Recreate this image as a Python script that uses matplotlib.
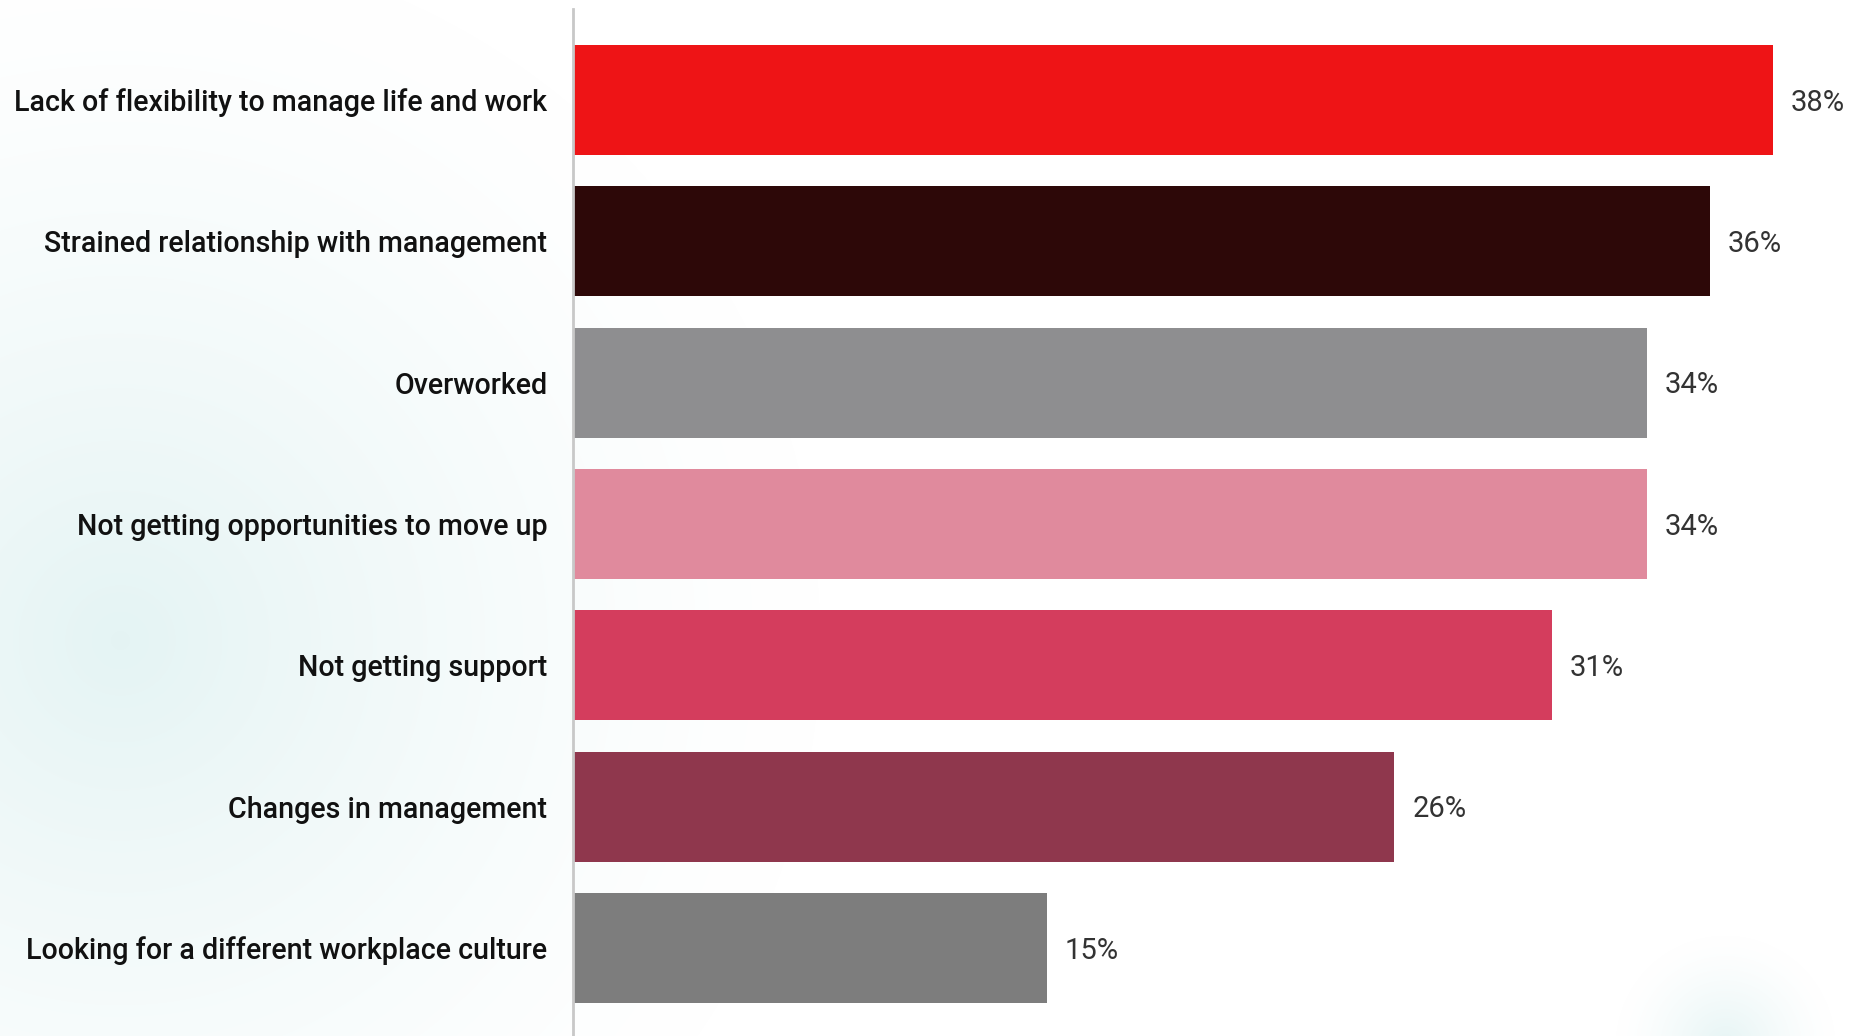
import numpy as np
import matplotlib
matplotlib.use("Agg")
import matplotlib.pyplot as plt
from matplotlib.lines import Line2D
from matplotlib.transforms import offset_copy

categories = [
    "Lack of flexibility to manage life and work",
    "Strained relationship with management",
    "Overworked",
    "Not getting opportunities to move up",
    "Not getting support",
    "Changes in management",
    "Looking for a different workplace culture",
]
values = [38, 36, 34, 34, 31, 26, 15]
bar_colors = ["#EE1416", "#2D0808", "#8E8E90", "#E08A9D", "#D43D5D", "#8F374D", "#7D7D7D"]

W, H, DPI = 1857, 1036, 100
fig = plt.figure(figsize=(W / DPI, H / DPI), dpi=DPI)
fig.patch.set_facecolor("white")

# soft teal glows in the background
bg = fig.add_axes([0, 0, 1, 1], zorder=0)
yy, xx = np.mgrid[0:H, 0:W]
glow = np.zeros((H, W))
for cx, cy, r, s in [(120, 640, 700, 0.8), (1725, 1045, 110, 0.75)]:
    d = np.sqrt((xx - cx) ** 2 + (yy - cy) ** 2) / r
    glow = np.maximum(glow, s * np.clip(1 - d, 0, 1) ** 1.4)
teal = np.array([0.87, 0.945, 0.945])
img = 1 - glow[..., None] * (1 - teal)
bg.imshow(img, extent=[0, W, H, 0], aspect="auto", interpolation="bilinear")
bg.set_axis_off()

ax_left = 573 / W
ax = fig.add_axes([ax_left, 0, 1 - ax_left, 1], zorder=1)
ax.patch.set_alpha(0)
ypos = np.arange(len(categories))
ax.barh(ypos, values, height=0.78, color=bar_colors)
ax.set_xlim(0, (W - 573) / 31.58)
ax.set_ylim(6.623, -0.7075)

for s in ax.spines.values():
    s.set_visible(False)
ax.set_xticks([])
ax.set_yticks(ypos)
ax.set_yticklabels(categories, fontfamily="Roboto", fontweight="medium",
                   fontsize=20.6, color="#111111")
ax.tick_params(axis="y", length=0, pad=18.5)

# vertical baseline
ax.add_line(Line2D([0, 0], [0, (H - 9) / H], transform=ax.transAxes,
                   color="#C8C8C8", lw=2.0, clip_on=False))

tr = offset_copy(ax.transData, fig=fig, x=13, y=-2, units="points")
for y, v in zip(ypos, values):
    ax.text(v, y, f"{v}%", transform=tr, va="center", ha="left",
            fontfamily="Roboto", fontsize=21, color="#333333")

fig.savefig("out.png", dpi=DPI, facecolor="white")
